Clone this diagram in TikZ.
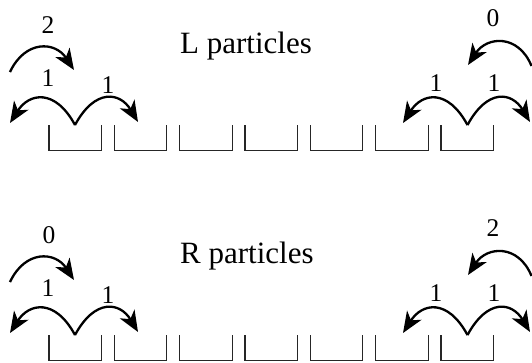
\documentclass[tikz,border=0pt]{standalone}
\usepackage{fontspec}
\setmainfont{Liberation Serif}
\usetikzlibrary{arrows.meta,calc}
\tikzset{
  hop/.style={line width=2.3pt, -{Stealth[length=21pt,width=17pt,inset=6pt]}},
  cell/.style={draw=black!85, line width=1.1pt},
  num/.style={font=\fontsize{25.5}{25.5}\selectfont, inner sep=0pt, anchor=base},
  title/.style={font=\fontsize{31}{31}\selectfont, inner sep=0pt, anchor=base west},
}
\begin{document}
\begin{tikzpicture}[x=1pt,y=-1pt]
\useasboundingbox (0,0) rectangle (532,362);
\foreach \r/\dy in {0/0,1/210}{
  % boxes
  \foreach \i in {0,...,6}{
    \pgfmathsetmacro{\xl}{49+65.33*\i}
    \pgfmathsetmacro{\xr}{\xl+52.5}
    \draw[cell] (\xl,125+\dy) -- (\xl,150.7+\dy) -- (\xr,150.7+\dy) -- (\xr,125+\dy);
  }
  % coordinates left group
  \coordinate (lm\r) at (75,125+\dy);
  \coordinate (la\r) at (10,123+\dy);
  \coordinate (lb\r) at (138,122+\dy);
  \coordinate (ls\r) at (10,72+\dy);
  \coordinate (le\r) at (74,70+\dy);
  % right group
  \coordinate (rm\r) at (467.5,125+\dy);
  \coordinate (ra\r) at (403,123+\dy);
  \coordinate (rb\r) at (530,122+\dy);
  \coordinate (rs\r) at (531.5,66+\dy);
  \coordinate (re\r) at (468,65+\dy);
  % arcs
  \draw[hop] (lm\r) .. controls ($(lm\r)+(-20,-37)$) and ($(la\r)+(19,-30)$) .. (la\r);
  \draw[hop] (lm\r) .. controls ($(lm\r)+(20,-37)$) and ($(lb\r)+(-18,-30)$) .. (lb\r);
  \draw[hop] (ls\r) .. controls ($(ls\r)+(15,-32)$) and ($(le\r)+(-19,-29)$) .. (le\r);
  \draw[hop] (rm\r) .. controls ($(rm\r)+(-20,-37)$) and ($(ra\r)+(19,-30)$) .. (ra\r);
  \draw[hop] (rm\r) .. controls ($(rm\r)+(20,-37)$) and ($(rb\r)+(-18,-30)$) .. (rb\r);
  \draw[hop] (rs\r) .. controls ($(rs\r)+(-13,-32)$) and ($(re\r)+(19,-29)$) .. (re\r);
  % ones
  \node[num] (n1\r) at (48,86.7+\dy) {1};
  \node[num] (n2\r) at (108,93+\dy) {1};
  \node[num] (n3\r) at (436,91.7+\dy) {1};
  \node[num] (n4\r) at (494,91.7+\dy) {1};
}
\node[num] (tl) at (48,33) {2};
\node[num] (tr) at (493,26.5) {0};
\node[num] (bl) at (49,243.3) {0};
\node[num] (br) at (493,236.7) {2};
\node[title] (lp) at (180,53.3) {L particles};
\node[title] (rp) at (180,263.3) {R particles};
\end{tikzpicture}
\end{document}
